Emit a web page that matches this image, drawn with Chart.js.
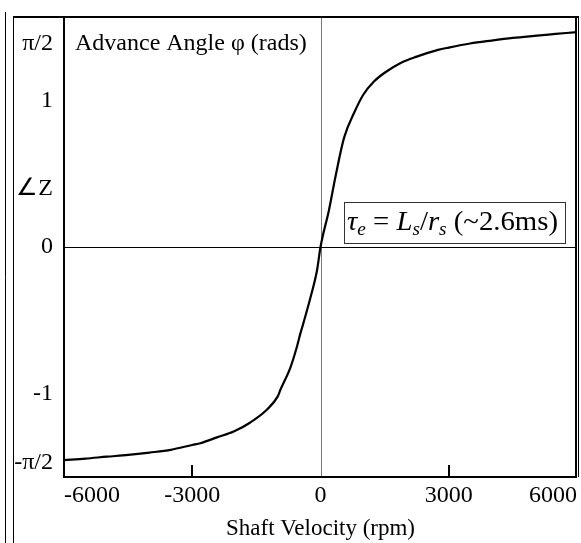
<!DOCTYPE html>
<html>
<head>
<meta charset="utf-8">
<script src="https://cdn.jsdelivr.net/npm/chart.js@4"></script>
<style>
html,body{margin:0;padding:0;background:#fff;}
#wrap{width:581px;height:543px;position:relative;}
</style>
</head>
<body>
<div id="wrap"><canvas id="c" width="581" height="543"></canvas></div>
<script>
// Shaft velocity (rpm) and advance angle (rad)
const rpm = [-6000,-5500,-5000,-4500,-4000,-3500,-3000,-2810,-2420,-2030,-1650,-1250,-1000,-940,-700,-550,-470,-400,-230,-80,0,
             200,350,550,800,1000,1250,1500,1875,2250,2750,3000,3500,4000,4500,5000,5500,6000];
const angle = [-1.455,-1.445,-1.432,-1.420,-1.404,-1.385,-1.352,-1.340,-1.300,-1.260,-1.200,-1.110,-1.020,-0.977,-0.820,-0.680,-0.590,-0.520,-0.340,-0.157,0,
               0.255,0.480,0.745,0.925,1.040,1.130,1.190,1.257,1.300,1.346,1.362,1.390,1.410,1.428,1.442,1.455,1.468];
const xTickVals = [-6000,-3000,0,3000,6000];
const xTickLabels = ['-6000','-3000','0','3000','6000'];
const yTickVals = [-1.47,-1,0,0.40,1,1.39];
const yTickLabels = ['-\u03C0/2','-1','0','\u2220Z','1','\u03C0/2'];
const chartTitle = 'Advance Angle \u03C6 (rads)';
const xTitle = 'Shaft Velocity (rpm)';

const FONT = '"Liberation Serif", "Times New Roman", serif';

const deco = {
  id:'deco',
  beforeDatasetsDraw(chart){
    const ctx = chart.ctx, x = chart.scales.x, y = chart.scales.y;
    const a = chart.chartArea;
    ctx.save();
    ctx.strokeStyle = '#777'; ctx.lineWidth = 1;
    const x0 = Math.round(x.getPixelForValue(0)) + 0.5;
    ctx.beginPath(); ctx.moveTo(x0, a.top); ctx.lineTo(x0, a.bottom); ctx.stroke();
    ctx.strokeStyle = '#000';
    const y0 = Math.round(y.getPixelForValue(0)) + 0.5;
    ctx.beginPath(); ctx.moveTo(a.left, y0); ctx.lineTo(a.right, y0); ctx.stroke();
    ctx.restore();
  },
  afterDraw(chart){
    const ctx = chart.ctx, x = chart.scales.x, y = chart.scales.y;
    const a = chart.chartArea;
    ctx.save();
    ctx.strokeStyle = '#000';
    ctx.lineWidth = 1;
    ctx.beginPath(); ctx.moveTo(5.5, 12); ctx.lineTo(5.5, 543); ctx.stroke();
    ctx.beginPath(); ctx.moveTo(13.5, a.top); ctx.lineTo(13.5, 543); ctx.stroke();
    ctx.lineWidth = 2;
    ctx.beginPath(); ctx.moveTo(13, a.top); ctx.lineTo(a.right+2, a.top); ctx.stroke();
    ctx.beginPath(); ctx.moveTo(a.left, a.top); ctx.lineTo(a.left, a.bottom+1); ctx.stroke();
    ctx.beginPath(); ctx.moveTo(a.left, a.bottom); ctx.lineTo(a.right, a.bottom); ctx.stroke();
    ctx.beginPath(); ctx.moveTo(a.right-1, a.top); ctx.lineTo(a.right-1, a.bottom+1); ctx.stroke();
    ctx.lineWidth = 1;
    ctx.beginPath(); ctx.moveTo(a.right+1.5, a.top); ctx.lineTo(a.right+1.5, a.bottom); ctx.stroke();
    ctx.lineWidth = 2;
    [-3000,3000].forEach(v=>{
      const px = Math.round(x.getPixelForValue(v));
      ctx.beginPath(); ctx.moveTo(px, a.bottom); ctx.lineTo(px, a.bottom-12); ctx.stroke();
    });
    // in-plot title
    ctx.fillStyle = '#000';
    ctx.font = '24px ' + FONT;
    ctx.textBaseline = 'alphabetic';
    ctx.fillText(chartTitle, a.left+11, 50);
    // annotation box
    const bx = 344, by = 202, bw = 221, bh = 41;
    ctx.fillStyle = '#fff';
    ctx.fillRect(bx, by, bw, bh);
    ctx.strokeStyle = '#333'; ctx.lineWidth = 1;
    ctx.strokeRect(bx+0.5, by+0.5, bw, bh);
    ctx.fillStyle = '#000';
    const base = 230, sub = base + 5;
    const parts = [
      ['\u03C4','italic 27px', base],
      ['e','italic 18px', sub],
      [' = ','27px', base],
      ['L','italic 27px', base],
      ['s','italic 18px', sub],
      ['/','27px', base],
      ['r','italic 27px', base],
      ['s','italic 18px', sub],
      [' (~2.6ms)','27px', base]
    ];
    let total = 0;
    parts.forEach(p=>{ ctx.font = p[1] + ' ' + FONT; total += ctx.measureText(p[0]).width; });
    const sx = 211 / total;
    ctx.translate(347, 0);
    ctx.scale(sx, 1);
    let cx = 0;
    parts.forEach(p=>{
      ctx.font = p[1] + ' ' + FONT;
      ctx.fillText(p[0], cx, p[2]);
      cx += ctx.measureText(p[0]).width;
    });
    ctx.restore();
  }
};

new Chart(document.getElementById('c'), {
  type:'line',
  data:{
    datasets:[{
      data: rpm.map((v,i)=>({x:v, y:angle[i]})),
      borderColor:'#000',
      borderWidth:2.2,
      pointRadius:0,
      cubicInterpolationMode:'monotone',
      fill:false
    }]
  },
  options:{
    responsive:false,
    animation:false,
    devicePixelRatio:1,
    layout:{padding:{top:17, right:4, left:0, bottom:0}},
    plugins:{legend:{display:false}, tooltip:{enabled:false}, title:{display:false}},
    scales:{
      x:{
        type:'linear', min:-6000, max:6000,
        afterBuildTicks(s){ s.ticks = xTickVals.map(v=>({value:v})); },
        afterFit(s){ s.height = 66; s.paddingLeft = 0; s.paddingRight = 0; },
        grid:{display:false, drawTicks:false},
        border:{display:false},
        ticks:{
          align:'inner', padding:4, color:'#000', maxRotation:0, autoSkip:false,
          font:{family:FONT, size:24},
          callback(v, i){ return xTickLabels[i]; }
        },
        title:{display:true, text:xTitle, color:'#000', font:{family:FONT, size:23}, padding:{top:3,bottom:0}}
      },
      y:{
        type:'linear', min:-Math.PI/2, max:Math.PI/2,
        afterBuildTicks(s){ s.ticks = yTickVals.map(v=>({value:v})); },
        afterFit(s){ s.width = 64; s.paddingTop = 0; s.paddingBottom = 0; },
        grid:{display:false, drawTicks:false},
        border:{display:false},
        ticks:{
          padding:11, color:'#000', autoSkip:false,
          font:{family:FONT, size:24},
          callback(v, i){ return yTickLabels[i]; }
        }
      }
    }
  },
  plugins:[deco]
});
</script>
</body>
</html>
